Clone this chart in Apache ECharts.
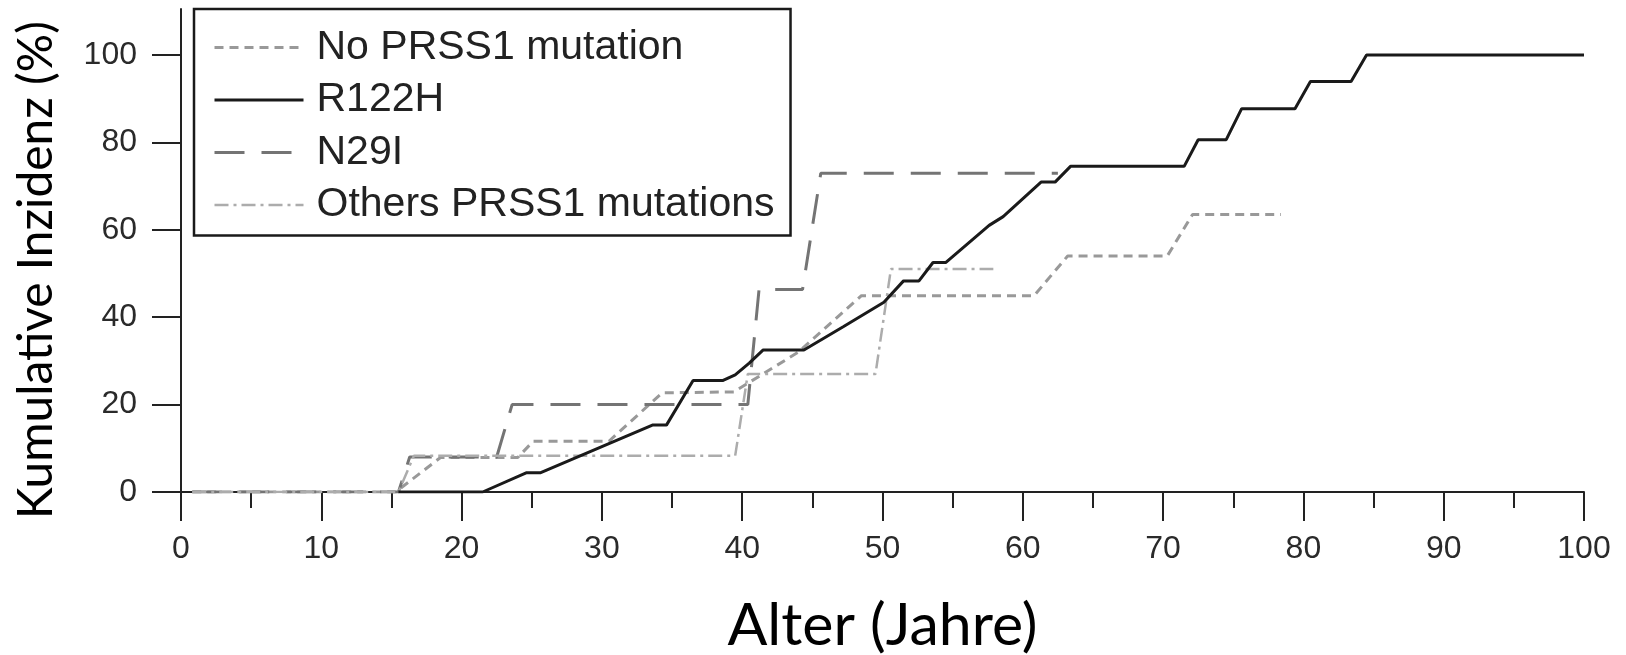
<!DOCTYPE html>
<html>
<head>
<meta charset="utf-8">
<style>
  html, body { margin: 0; padding: 0; background: #ffffff; }
  #chart { width: 1626px; height: 655px; }
</style>
<script src="https://cdn.jsdelivr.net/npm/echarts@6/dist/echarts.min.js"></script>
</head>
<body>
<div id="chart"></div>
<script>
// ---- data (age in years, cumulative incidence in %) ----
const seriesNames = ['No PRSS1 mutation', 'R122H', 'N29I', 'Others PRSS1 mutations'];

const noMutation = [
  [0.8, 0], [15.3, 0], [18.5, 7.9], [24.0, 7.9], [25.1, 11.6], [30.5, 11.6],
  [34.3, 22.7], [39.4, 22.9], [44.0, 32.0], [48.5, 44.9], [60.8, 44.9],
  [63.2, 54.0], [70.3, 54.0], [72.1, 63.5], [78.4, 63.5]
];

const r122h = [
  [15.5, 0], [21.5, 0], [24.6, 4.4], [25.6, 4.4], [33.6, 15.3], [34.6, 15.3],
  [36.5, 25.5], [38.6, 25.5], [39.5, 26.8], [40.5, 29.5], [41.5, 32.5],
  [44.4, 32.5], [47.2, 37.8], [50.1, 43.4], [51.5, 48.3], [52.6, 48.3],
  [53.6, 52.5], [54.5, 52.5], [57.6, 61.0], [58.6, 63.0], [61.3, 70.9],
  [62.3, 70.9], [63.4, 74.5], [71.5, 74.5], [72.5, 80.6], [74.5, 80.6],
  [75.6, 87.7], [79.4, 87.7], [80.5, 93.9], [83.4, 93.9], [84.5, 100],
  [100, 100]
];

const n29i = [
  [0.8, 0], [15.5, 0], [16.3, 8.0], [22.5, 8.0], [23.6, 20.0], [40.4, 20.0],
  [41.2, 46.3], [44.3, 46.3], [45.6, 72.9], [62.5, 72.9]
];

const otherMutations = [
  [0.8, 0], [15.5, 0], [16.6, 8.3], [39.5, 8.3], [40.4, 27.0], [49.5, 27.0],
  [50.6, 51.0], [57.9, 51.0]
];

const xTicks = [0, 10, 20, 30, 40, 50, 60, 70, 80, 90, 100];
const yTicks = [0, 20, 40, 60, 80, 100];

const xTitle = 'Alter (Jahre)';
const yTitle = 'Kumulative Inzidenz (%)';

// ---- styles ----
const styles = {
  'No PRSS1 mutation':      { color: '#999999', width: 3,   type: [9, 6] },
  'R122H':                  { color: '#1a1a1a', width: 3,   type: 'solid' },
  'N29I':                   { color: '#747474', width: 3,   type: [30, 17] },
  'Others PRSS1 mutations': { color: '#acacac', width: 2.5, type: [14, 5, 3, 5] }
};

// size the vertical title so its length matches the original (about 498 px)
function fitFontSize(text, family, targetWidth) {
  const ctx = document.createElement('canvas').getContext('2d');
  ctx.font = '100px ' + family;
  const w = ctx.measureText(text).width;
  return Math.round(100 * targetWidth / w * 10) / 10;
}
const yTitleSize = fitFontSize(yTitle, 'Lato', 498);

// ---- chart ----
const chart = echarts.init(document.getElementById('chart'), null, { renderer: 'canvas' });

const tickFont = { fontFamily: 'Liberation Sans, Arial, sans-serif', fontSize: 32, color: '#2a2a2a' };

function makeSeries(name, data, z) {
  const s = styles[name];
  return {
    name: name, type: 'line', data: data, symbol: 'none', showSymbol: false, z: z,
    lineStyle: { color: s.color, width: s.width, type: s.type },
    itemStyle: { color: s.color }
  };
}

const option = {
  animation: false,
  backgroundColor: '#ffffff',
  grid: {
    left: 181, right: 42, top: 9, bottom: 163,
    containLabel: false, outerBoundsMode: 'none'
  },
  graphic: [{
    type: 'text',
    x: 37, y: 270,
    rotation: Math.PI / 2,
    style: {
      text: yTitle,
      font: yTitleSize + 'px Lato, sans-serif',
      fill: '#000000',
      textAlign: 'center',
      textVerticalAlign: 'middle'
    }
  }],
  legend: {
    orient: 'vertical',
    left: 194, top: 9,
    data: seriesNames.map(n => ({
      name: n,
      itemStyle: { color: 'rgba(0,0,0,0)', borderWidth: 0, opacity: 0 },
      lineStyle: { color: styles[n].color, width: styles[n].width, type: styles[n].type, opacity: 1 }
    })),
    padding: [18, 16, 10, 19],
    itemWidth: 89, itemHeight: 14,
    itemGap: 11.5,
    borderColor: '#1a1a1a', borderWidth: 2.5,
    backgroundColor: '#ffffff',
    textStyle: {
      fontFamily: 'Liberation Sans, Arial, sans-serif',
      fontSize: 41, color: '#222222', lineHeight: 40,
      padding: [0, 0, 0, 8]
    }
  },
  xAxis: {
    type: 'value',
    min: 0, max: 100, interval: 10,
    name: xTitle,
    nameLocation: 'middle',
    nameGap: 104,
    nameTextStyle: { fontFamily: 'Lato, sans-serif', fontSize: 59, color: '#000000' },
    axisLine: { show: true, onZero: false, lineStyle: { color: '#222222', width: 2 } },
    axisTick: { show: true, length: 29, lineStyle: { color: '#222222', width: 2 }, customValues: xTicks },
    minorTick: { show: true, splitNumber: 2, length: 16, lineStyle: { color: '#222222', width: 2 } },
    axisLabel: Object.assign({ margin: 41, customValues: xTicks }, tickFont),
    splitLine: { show: false },
    minorSplitLine: { show: false }
  },
  yAxis: {
    type: 'value',
    min: 0, max: 110.5,
    axisLine: { show: true, onZero: false, lineStyle: { color: '#222222', width: 2 } },
    axisTick: { show: true, length: 29, lineStyle: { color: '#222222', width: 2 }, customValues: yTicks },
    axisLabel: Object.assign({ margin: 44, customValues: yTicks }, tickFont),
    splitLine: { show: false }
  },
  series: [
    makeSeries(seriesNames[0], noMutation, 3),
    makeSeries(seriesNames[2], n29i, 3),
    makeSeries(seriesNames[3], otherMutations, 3),
    makeSeries(seriesNames[1], r122h, 4)
  ]
};

chart.setOption(option);
</script>
</body>
</html>
